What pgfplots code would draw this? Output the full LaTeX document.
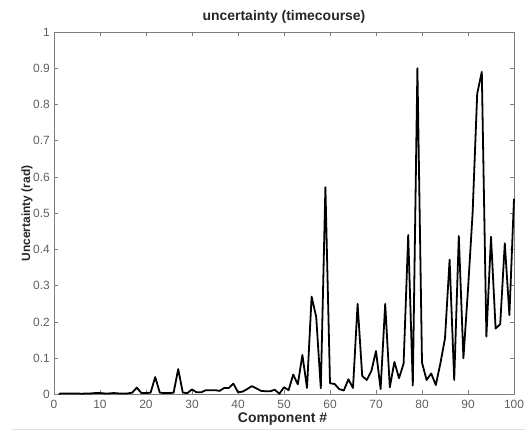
\documentclass[border=0pt]{standalone}
\usepackage{fontspec}
\setmainfont{Liberation Sans}
\usepackage{pgfplots}
\pgfplotsset{compat=1.18}
\definecolor{axgray}{RGB}{125,125,125}
\definecolor{ticktext}{RGB}{95,95,95}

\begin{document}
\begin{tikzpicture}
\begin{axis}[
    at={(0,0)}, anchor=south west,
    scale only axis,
    width=460bp, height=362.5bp,
    xmin=0, xmax=100,
    ymin=0, ymax=1,
    xtick={0,10,20,30,40,50,60,70,80,90,100},
    ytick={0,0.1,0.2,0.3,0.4,0.5,0.6,0.7,0.8,0.9,1},
    tick align=inside,
    major tick length=4bp,
    axis line style={axgray, line width=0.8pt},
    every tick/.style={axgray, line width=0.6pt},
    tick label style={font=\fontsize{12}{14}\selectfont, text=ticktext, inner sep=0pt},
    xticklabel style={anchor=north, yshift=-5.5bp},
    yticklabel style={anchor=east, xshift=-4bp},
    /pgf/number format/assume math mode=true,
    clip=false,
]
% uncertainty per component
\addplot[black, line width=1.8pt, line join=round] coordinates {
(1,0.002) (2,0.003) (3,0.003) (4,0.003) (5,0.003) (6,0.002) (7,0.003) (8,0.003)
(9,0.004) (10,0.004) (11,0.003) (12,0.003) (13,0.004) (14,0.003) (15,0.003)
(16,0.003) (17,0.005) (18,0.019) (19,0.004) (20,0.004) (21,0.005) (22,0.048)
(23,0.005) (24,0.004) (25,0.004) (26,0.005) (27,0.070) (28,0.005) (29,0.004)
(30,0.014) (31,0.006) (32,0.006) (33,0.012) (34,0.012) (35,0.012) (36,0.010)
(37,0.018) (38,0.018) (39,0.030) (40,0.006) (41,0.008) (42,0.015) (43,0.023)
(44,0.017) (45,0.010) (46,0.009) (47,0.009) (48,0.013) (49,0.002) (50,0.020)
(51,0.012) (52,0.055) (53,0.028) (54,0.109) (55,0.018) (56,0.270) (57,0.214)
(58,0.017) (59,0.572) (60,0.031) (61,0.029) (62,0.015) (63,0.011) (64,0.042)
(65,0.018) (66,0.250) (67,0.051) (68,0.040) (69,0.065) (70,0.120) (71,0.015)
(72,0.250) (73,0.020) (74,0.090) (75,0.045) (76,0.085) (77,0.440) (78,0.025)
(79,0.900) (80,0.088) (81,0.040) (82,0.058) (83,0.026) (84,0.086) (85,0.155)
(86,0.372) (87,0.040) (88,0.437) (89,0.100) (90,0.290) (91,0.500) (92,0.830)
(93,0.890) (94,0.160) (95,0.435) (96,0.182) (97,0.194) (98,0.417) (99,0.219)
(100,0.540)
};
\end{axis}
% title and axis labels
\node[anchor=base, font=\fontsize{14}{16}\selectfont\bfseries, text=black!85]
    at (230bp,373.5bp) {uncertainty (timecourse)};
\node[anchor=base, font=\fontsize{14}{16}\selectfont\bfseries, text=black!85]
    at (228.5bp,-27.5bp) {Component \#};
\node[anchor=base, rotate=90, font=\fontsize{12}{14}\selectfont\bfseries, text=black!85]
    at (-24bp,181bp) {Uncertainty (rad)};
% faint line of the screenshot below the figure
\draw[black!12, line width=1pt] (-42bp,-34.5bp) -- (471bp,-34.5bp);
\pgfresetboundingbox
\path[use as bounding box] (-54bp,-36.5bp) rectangle (471bp,394.5bp);
\end{tikzpicture}
\end{document}
